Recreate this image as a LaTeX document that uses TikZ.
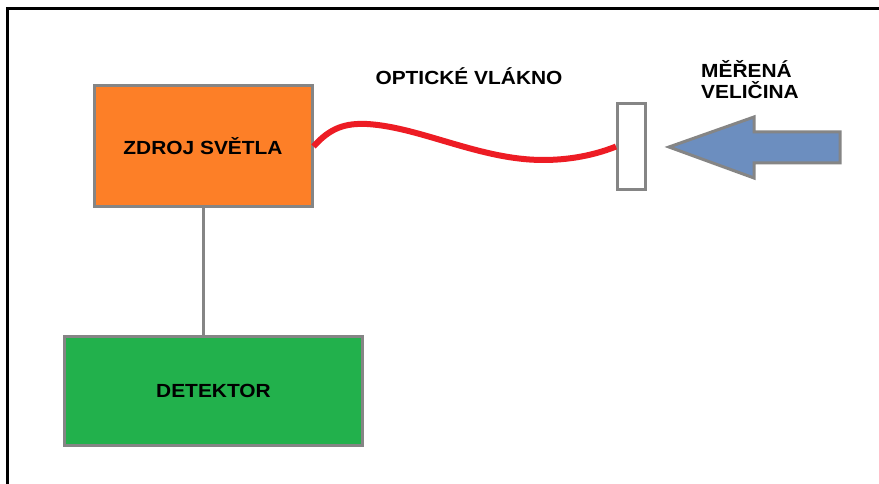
\documentclass[tikz,border=0pt]{standalone}
\usepackage{fontspec}
\setmainfont{Liberation Sans}[FakeStretch=1.1]
\definecolor{orangebox}{HTML}{FD7F27}
\definecolor{greenbox}{HTML}{22B14C}
\definecolor{bluearrow}{HTML}{6C8EBF}
\definecolor{grayline}{HTML}{858585}
\definecolor{fiber}{HTML}{ED1C24}
\begin{document}
\begin{tikzpicture}[x=1pt,y=-1pt,
  blockbox/.style={draw=grayline,line width=3pt,rectangle,inner sep=0pt,
    font=\fontsize{19}{21}\selectfont\bfseries},
  lbl/.style={font=\fontsize{19}{21}\selectfont\bfseries,inner sep=0pt}]
\useasboundingbox (0,0) rectangle (879,484);
\fill[white] (0,0) rectangle (879,484);
% frame
\draw[black,line width=3pt] (7,490) -- (7,9) -- (885,9);
% boxes
\node[blockbox,fill=orangebox,minimum width=218pt,minimum height=121pt] (zdroj) at (203,146.5) {ZDROJ SVĚTLA};
\node[blockbox,fill=greenbox,minimum width=298pt,minimum height=109pt] (det) at (213.5,391) {DETEKTOR};
\node[draw=grayline,line width=3pt,fill=white,rectangle,inner sep=0pt,minimum width=28pt,minimum height=86pt] (senzor) at (631.5,146.5) {};
% connector
\draw[grayline,line width=3pt] (zdroj.south -| 203.5,0) -- (det.north -| 203.5,0);
% fiber
\draw[fiber,line width=6pt] (zdroj.east) .. controls (330,128) and (345,123) .. (367,124)
  .. controls (420,127) and (480,160) .. (543,160)
  .. controls (575,160) and (600,153) .. (senzor.west);
% arrow
\draw[grayline,line width=3pt,fill=bluearrow,line join=miter]
  (669,147) -- (754,117) -- (754,132) -- (840,132) -- (840,163) -- (754,163) -- (754,178) -- cycle;
% labels
\node[lbl] (opt) at (469,76) {OPTICKÉ VLÁKNO};
\node[lbl,align=left,anchor=north west] (mer) at (701,60) {MĚŘENÁ\\VELIČINA};
\end{tikzpicture}
\end{document}
